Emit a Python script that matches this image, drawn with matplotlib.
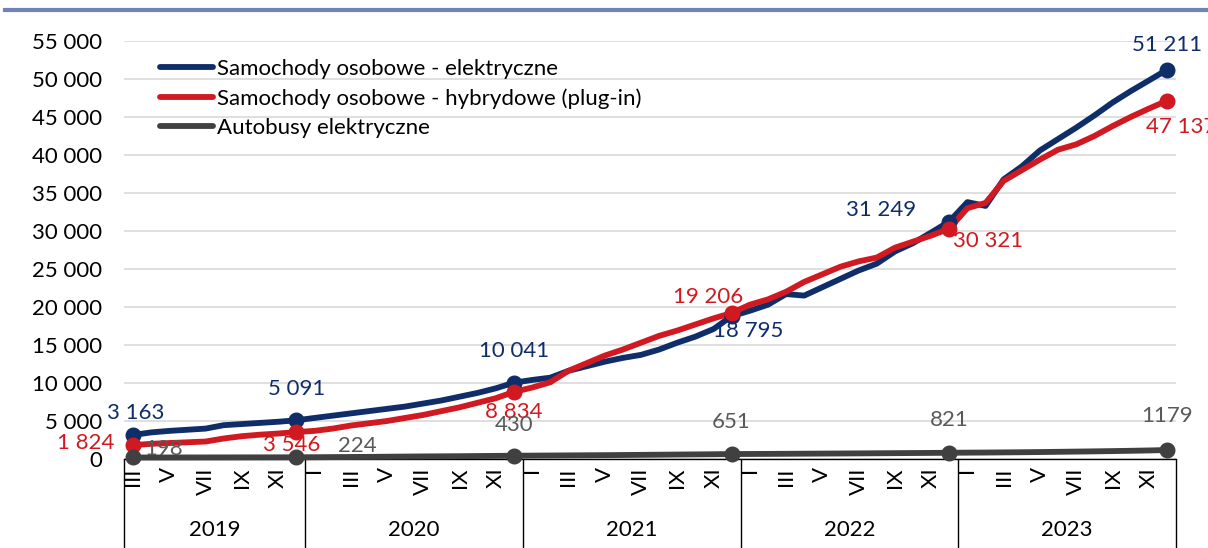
import numpy as np
import matplotlib
matplotlib.use('Agg')
import matplotlib.pyplot as plt
from matplotlib.lines import Line2D

plt.rcParams['font.family'] = ['Lato', 'DejaVu Sans']

# months: III 2019 .. XII 2023
years = ['2019', '2020', '2021', '2022', '2023']
months_per_year = [10, 12, 12, 12, 12]
month_names_2019 = ['III', 'IV', 'V', 'VI', 'VII', 'VIII', 'IX', 'X', 'XI', 'XII']
month_names = ['I', 'II', 'III', 'IV', 'V', 'VI', 'VII', 'VIII', 'IX', 'X', 'XI', 'XII']

ev_cars = [3163, 3500, 3700, 3850, 4000, 4450, 4600, 4750, 4900, 5091,
           5400, 5700, 6000, 6300, 6600, 6900, 7300, 7700, 8200, 8700, 9300, 10041,
           10400, 10700, 11600, 12200, 12800, 13300, 13700, 14400, 15300, 16100, 17100, 18795,
           19500, 20300, 21700, 21500, 22600, 23700, 24800, 25700, 27300, 28400, 29800, 31249,
           33800, 33300, 36800, 38500, 40600, 42100, 43600, 45200, 46900, 48400, 49800, 51211]

phev_cars = [1824, 2000, 2100, 2200, 2300, 2700, 3000, 3200, 3350, 3546,
             3700, 4000, 4400, 4700, 5000, 5400, 5800, 6300, 6800, 7400, 8000, 8834,
             9400, 10100, 11600, 12600, 13600, 14400, 15300, 16200, 16900, 17700, 18500, 19206,
             20300, 21000, 22000, 23300, 24300, 25300, 26000, 26500, 27800, 28600, 29400, 30321,
             33000, 33700, 36600, 38000, 39400, 40700, 41400, 42500, 43800, 45000, 46100, 47137]

ev_buses = [198, 200, 203, 206, 208, 211, 214, 217, 220, 224,
            235, 250, 265, 280, 300, 320, 340, 355, 370, 390, 410, 430,
            445, 460, 475, 490, 505, 525, 545, 565, 585, 605, 625, 651,
            660, 672, 685, 700, 712, 725, 740, 755, 770, 785, 800, 821,
            835, 850, 870, 890, 915, 945, 975, 1005, 1040, 1080, 1125, 1179]

marker_idx = [0, 9, 21, 33, 45, 57]
ev_labels = ['3 163', '5 091', '10 041', '18 795', '31 249', '51 211']
phev_labels = ['1 824', '3 546', '8 834', '19 206', '30 321', '47 137']
bus_labels = ['198', '224', '430', '651', '821', '1179']

series_names = ['Samochody osobowe - elektryczne',
                'Samochody osobowe - hybrydowe (plug-in)',
                'Autobusy elektryczne']

c_blue = '#0e2d69'
c_red = '#d01920'
c_gray = '#404040'
fs = 16

fig = plt.figure(figsize=(12.08, 5.48), dpi=100)
ax = fig.add_axes([124 / 1208, 1 - 459 / 548, 1052 / 1208, 418 / 548])

x = np.arange(len(ev_cars))
lw = 4.2
for vals, col, name in [(ev_cars, c_blue, series_names[0]),
                        (phev_cars, c_red, series_names[1]),
                        (ev_buses, c_gray, series_names[2])]:
    vals = np.array(vals)
    ax.plot(x, vals, color=col, lw=lw, solid_joinstyle='round',
            solid_capstyle='round', label=name, zorder=3, clip_on=False)
    ax.plot(x[marker_idx], vals[marker_idx], 'o', color=col, ms=10.5,
            zorder=4, clip_on=False)

# data labels (offsets in px)
def px(dx, dy):
    return (dx * 0.72, dy * 0.72)

ev_off = [(3, 22), (0, 31), (0, 32), (17, -15), (-68, 12), (0, 25)]
phev_off = [(-47, 2), (-5, -13), (0, -20), (-23, 16), (39, -12), (14, -26)]
bus_off = [(31, 8), (61, 11), (0, 31), (0, 32), (0, 33), (0, 34)]

for vals, labels, offs, col in [(ev_cars, ev_labels, ev_off, c_blue),
                                (phev_cars, phev_labels, phev_off, c_red),
                                (ev_buses, bus_labels, bus_off, '#595959')]:
    for i, lab, off in zip(marker_idx, labels, offs):
        ax.annotate(lab, (i, vals[i]), xytext=px(*off), textcoords='offset points',
                    ha='center', va='center', fontsize=fs, color=col,
                    zorder=5, annotation_clip=False)

ax.set_xlim(-0.5, len(x) - 0.5)
ax.set_ylim(0, 55000)
ticks = np.arange(0, 55001, 5000)
ax.set_yticks(ticks)
ax.set_yticklabels([f'{t:,}'.replace(',', ' ') for t in ticks], fontsize=fs)
ax.tick_params(axis='y', length=0, pad=16)
ax.grid(axis='y', color='#d9d9d9', lw=1.2, zorder=0)
for s in ['left', 'right', 'top']:
    ax.spines[s].set_visible(False)
ax.spines['bottom'].set_color('black')
ax.spines['bottom'].set_linewidth(1.0)

# month tick labels (every other month)
all_months = month_names_2019 + month_names * 4
tick_pos = list(range(0, len(x), 2))
ax.set_xticks(tick_pos)
ax.set_xticklabels([all_months[i] for i in tick_pos], rotation=90, fontsize=fs)
ax.tick_params(axis='x', length=0, pad=6)

# year boxes
bounds = np.concatenate([[0], np.cumsum(months_per_year)]) - 0.5
trans = ax.get_xaxis_transform()
ax.vlines(bounds, -0.3, 0, transform=trans, color='black', lw=1.0, clip_on=False)
for k, yr in enumerate(years):
    ax.text((bounds[k] + bounds[k + 1]) / 2, -0.17, yr, transform=trans,
            ha='center', va='center', fontsize=fs)

leg = ax.legend(loc='upper left', bbox_to_anchor=(160 / 1208, 1 - 59 / 548),
                bbox_transform=fig.transFigure, frameon=False, fontsize=fs,
                handlelength=2.4, handletextpad=0.15, labelspacing=0.42,
                borderaxespad=0, borderpad=0)

# top border
fig.add_artist(Line2D([5 / 1208, 1], [1 - 10 / 548] * 2, color='#6e84b8', lw=3))

fig.savefig('out.png', dpi=100)
